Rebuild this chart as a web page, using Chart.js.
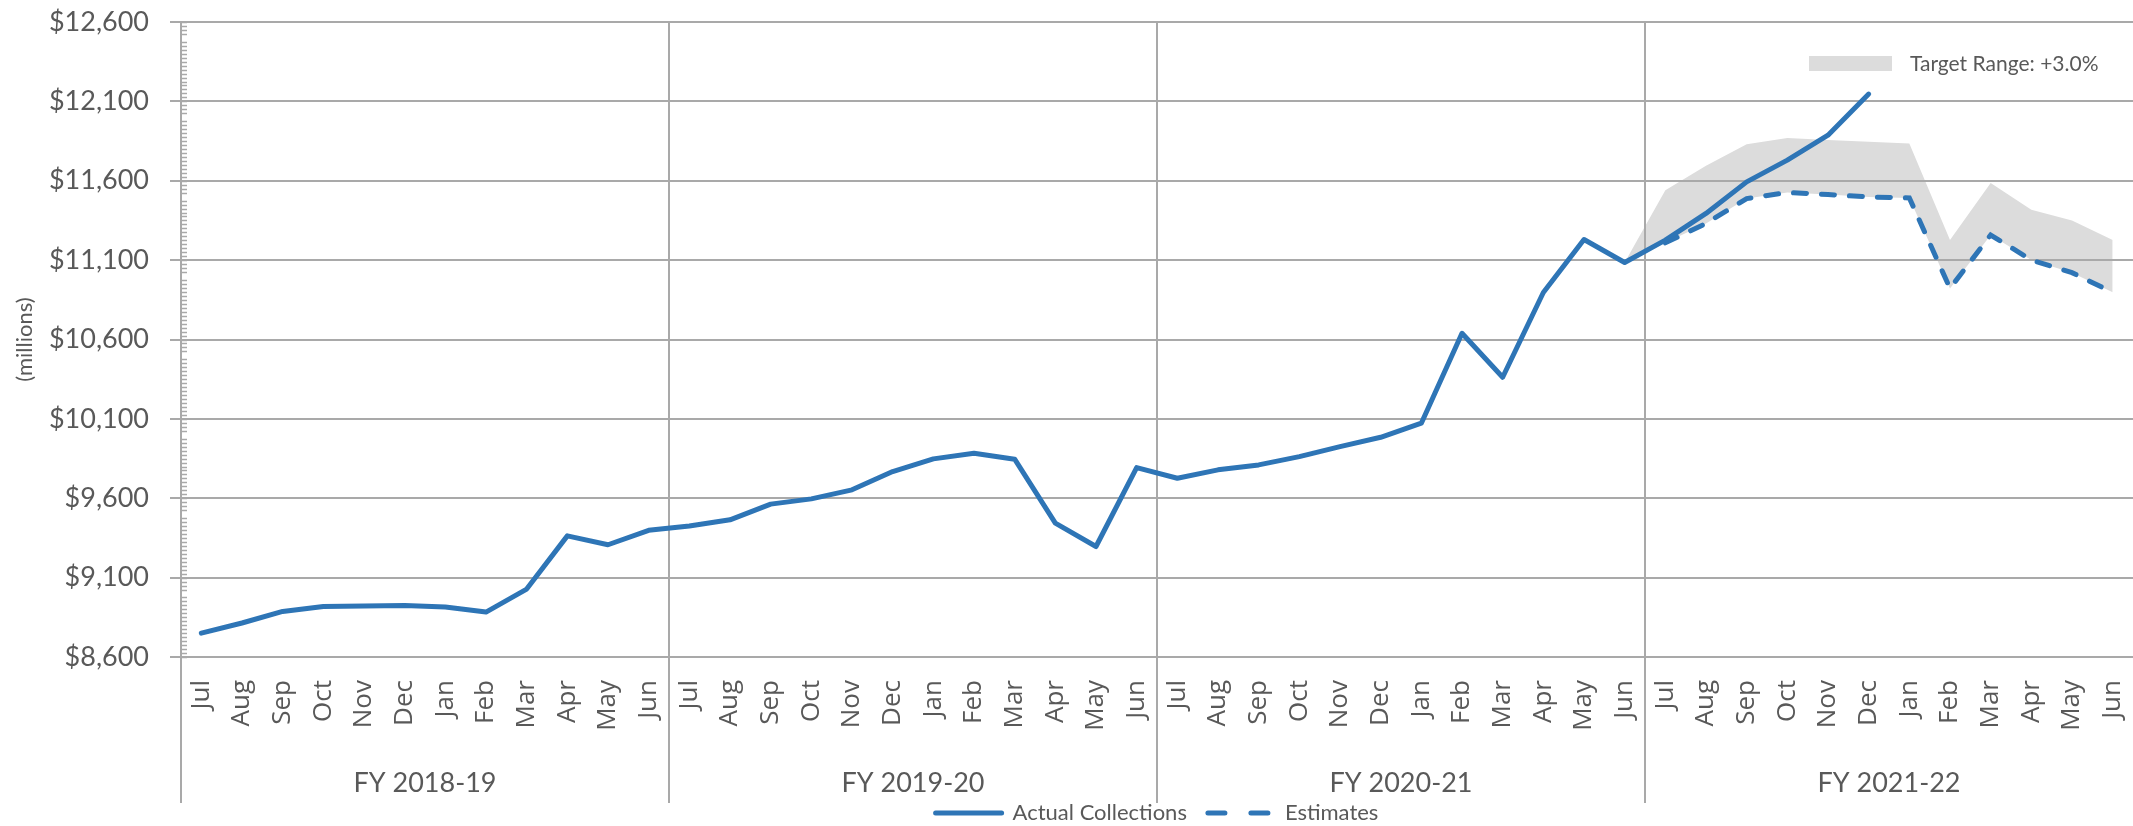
<!DOCTYPE html>
<html>
<head>
<meta charset="utf-8">
<title>Revenue collections vs estimates</title>
<script src="https://cdn.jsdelivr.net/npm/chart.js@4.4.1/dist/chart.umd.min.js"></script>
<style>
  html, body { margin: 0; padding: 0; background: #fff; }
</style>
</head>
<body>
<canvas id="revChart" width="2133" height="826"></canvas>
<script>
// Categories
const months = ['Jul', 'Aug', 'Sep', 'Oct', 'Nov', 'Dec', 'Jan', 'Feb', 'Mar', 'Apr', 'May', 'Jun'];
const fiscalYears = ['FY 2018-19', 'FY 2019-20', 'FY 2020-21', 'FY 2021-22'];
const monthLabels = fiscalYears.flatMap(() => months);

// Values ($ millions), one row per fiscal year
const actualCollections = [
  8750, 8814, 8887, 8918, 8921, 8925, 8915, 8883, 9028, 9363, 9307, 9398,
  9425, 9464, 9563, 9596, 9653, 9768, 9848, 9884, 9846, 9443, 9296, 9793,
  9726, 9779, 9810, 9862, 9925, 9984, 10073, 10639, 10362, 10896, 11230, 11085,
  11226, 11394, 11593, 11730, 11887, 12146, null, null, null, null, null, null
];
const estimates = [
  null, null, null, null, null, null, null, null, null, null, null, null,
  null, null, null, null, null, null, null, null, null, null, null, null,
  null, null, null, null, null, null, null, null, null, null, null, null,
  11209, 11331, 11488, 11526, 11513, 11498, 11492, 10922, 11258, 11101, 11021, 10897
];
// target range band: lower edge and upper edge
const targetLow = [
  null, null, null, null, null, null, null, null, null, null, null, null,
  null, null, null, null, null, null, null, null, null, null, null, null,
  null, null, null, null, null, null, null, null, null, null, 0, 11085,
  11209, 11331, 11488, 11526, 11513, 11498, 11492, 10922, 11258, 11101, 11021, 10897
];
const targetHigh = [
  null, null, null, null, null, null, null, null, null, null, null, null,
  null, null, null, null, null, null, null, null, null, null, null, null,
  null, null, null, null, null, null, null, null, null, null, 0, 11085,
  11540, 11694, 11830, 11870, 11856, 11845, 11835, 11226, 11586, 11418, 11350, 11226
];
const yTicks = { min: 8600, max: 12600, step: 500, minor: 25 };

const BLUE = '#2e75b6';
const BAND = '#dcdcdc';
const GRID = '#a9a9a9';
const TEXT = '#595959';

function alignPx(px, width) {
  return Math.round(px - width / 2) + width / 2;
}

// separators + fiscal year captions under the month labels
const fyGroups = {
  id: 'fyGroups',
  afterDraw(chart) {
    const { ctx, chartArea, scales: { x } } = chart;
    const half = (x.getPixelForValue(1) - x.getPixelForValue(0)) / 2;
    ctx.save();
    ctx.strokeStyle = GRID;
    ctx.lineWidth = 2;
    fiscalYears.forEach((fy, g) => {
      const edge = alignPx(x.getPixelForValue(g * 12) - half, 2);
      ctx.beginPath();
      ctx.moveTo(edge, chartArea.bottom);
      ctx.lineTo(edge, 803);
      ctx.stroke();
    });
    ctx.fillStyle = TEXT;
    ctx.font = '27px Lato';
    ctx.textAlign = 'center';
    ctx.textBaseline = 'middle';
    fiscalYears.forEach((fy, g) => {
      const mid = (x.getPixelForValue(g * 12) + x.getPixelForValue(g * 12 + 11)) / 2;
      ctx.fillText(fy, mid, 783);
    });
    ctx.restore();
  }
};

// small minor ticks inside the value axis
const minorTicks = {
  id: 'minorTicks',
  afterDraw(chart) {
    const { ctx, chartArea, scales: { y } } = chart;
    ctx.save();
    ctx.strokeStyle = GRID;
    ctx.lineWidth = 1.5;
    for (let v = yTicks.min; v <= yTicks.max; v += yTicks.minor) {
      if (v % yTicks.step === 0) continue;
      const py = Math.round(y.getPixelForValue(v)) + 0.5;
      ctx.beginPath();
      ctx.moveTo(chartArea.left, py);
      ctx.lineTo(chartArea.left + 6, py);
      ctx.stroke();
    }
    ctx.restore();
  }
};

// legend entry for the shaded band, top right of the plot
const bandLegend = {
  id: 'bandLegend',
  afterDraw(chart) {
    const { ctx, chartArea } = chart;
    const label = chart.data.datasets[3].label;
    ctx.save();
    ctx.fillStyle = BAND;
    ctx.fillRect(chartArea.right - 324, chartArea.top + 34, 83, 15);
    ctx.fillStyle = TEXT;
    ctx.font = '21px Lato';
    ctx.textAlign = 'left';
    ctx.textBaseline = 'middle';
    ctx.fillText(label, chartArea.right - 223, chartArea.top + 42);
    ctx.restore();
  }
};

new Chart(document.getElementById('revChart'), {
  type: 'line',
  data: {
    labels: monthLabels,
    datasets: [
      {
        label: 'Actual Collections',
        data: actualCollections,
        borderColor: BLUE,
        borderWidth: 5,
        borderJoinStyle: 'round',
        borderCapStyle: 'round',
        pointRadius: 0,
        fill: false
      },
      {
        label: 'Estimates',
        data: estimates,
        borderColor: BLUE,
        borderWidth: 5,
        borderDash: [13, 15],
        borderCapStyle: 'round',
        pointRadius: 0,
        fill: false
      },
      {
        label: 'Target Low',
        data: targetLow,
        borderColor: 'transparent',
        borderWidth: 0,
        pointRadius: 0,
        fill: false
      },
      {
        label: 'Target Range: +3.0%',
        data: targetHigh,
        borderColor: 'transparent',
        backgroundColor: BAND,
        borderWidth: 0,
        pointRadius: 0,
        fill: '-1'
      }
    ]
  },
  options: {
    responsive: false,
    animation: false,
    events: [],
    layout: { padding: { top: 22, right: 0, bottom: -8, left: 0 } },
    scales: {
      x: {
        offset: true,
        grid: {
          offset: true,
          drawTicks: false,
          lineWidth: 2,
          color: ctx => (ctx.index % 12 === 0 && ctx.index < monthLabels.length ? GRID : 'transparent')
        },
        border: { color: GRID, width: 2 },
        ticks: {
          autoSkip: false,
          maxRotation: 90,
          minRotation: 90,
          padding: 23,
          color: TEXT,
          font: { family: 'Open Sans', size: 26 }
        },
        afterFit: s => {
          s.height = 124;
          s.paddingLeft = 0;
          s.paddingRight = 0;
        }
      },
      y: {
        min: yTicks.min,
        max: yTicks.max,
        ticks: {
          stepSize: yTicks.step,
          padding: 21,
          color: TEXT,
          font: { family: 'Lato', size: 27 },
          callback: v => '$' + v.toLocaleString('en-US')
        },
        grid: { color: GRID, lineWidth: 2, tickLength: 11 },
        border: { color: GRID, width: 2 },
        title: {
          display: true,
          text: '(millions)',
          color: TEXT,
          font: { family: 'Lato', size: 22 },
          padding: { top: 12, bottom: 0 }
        },
        afterFit: s => {
          s.width = 181;
          s.paddingTop = 0;
          s.paddingBottom = 0;
        }
      }
    },
    plugins: {
      filler: { drawTime: 'beforeDraw' },
      tooltip: { enabled: false },
      legend: {
        position: 'bottom',
        fullSize: false,
        labels: {
          usePointStyle: true,
          pointStyleWidth: 66,
          padding: 21,
          color: TEXT,
          font: { family: 'Lato', size: 22 },
          generateLabels: chart => chart.data.datasets.slice(0, 2).map((ds, i) => ({
            text: ds.label,
            datasetIndex: i,
            pointStyle: 'line',
            strokeStyle: BLUE,
            fillStyle: BLUE,
            lineWidth: 5,
            lineCap: 'round',
            lineDash: i === 1 ? [17, 26] : [],
            fontColor: TEXT,
            hidden: false
          }))
        }
      }
    }
  },
  plugins: [fyGroups, minorTicks, bandLegend]
});
</script>
</body>
</html>
